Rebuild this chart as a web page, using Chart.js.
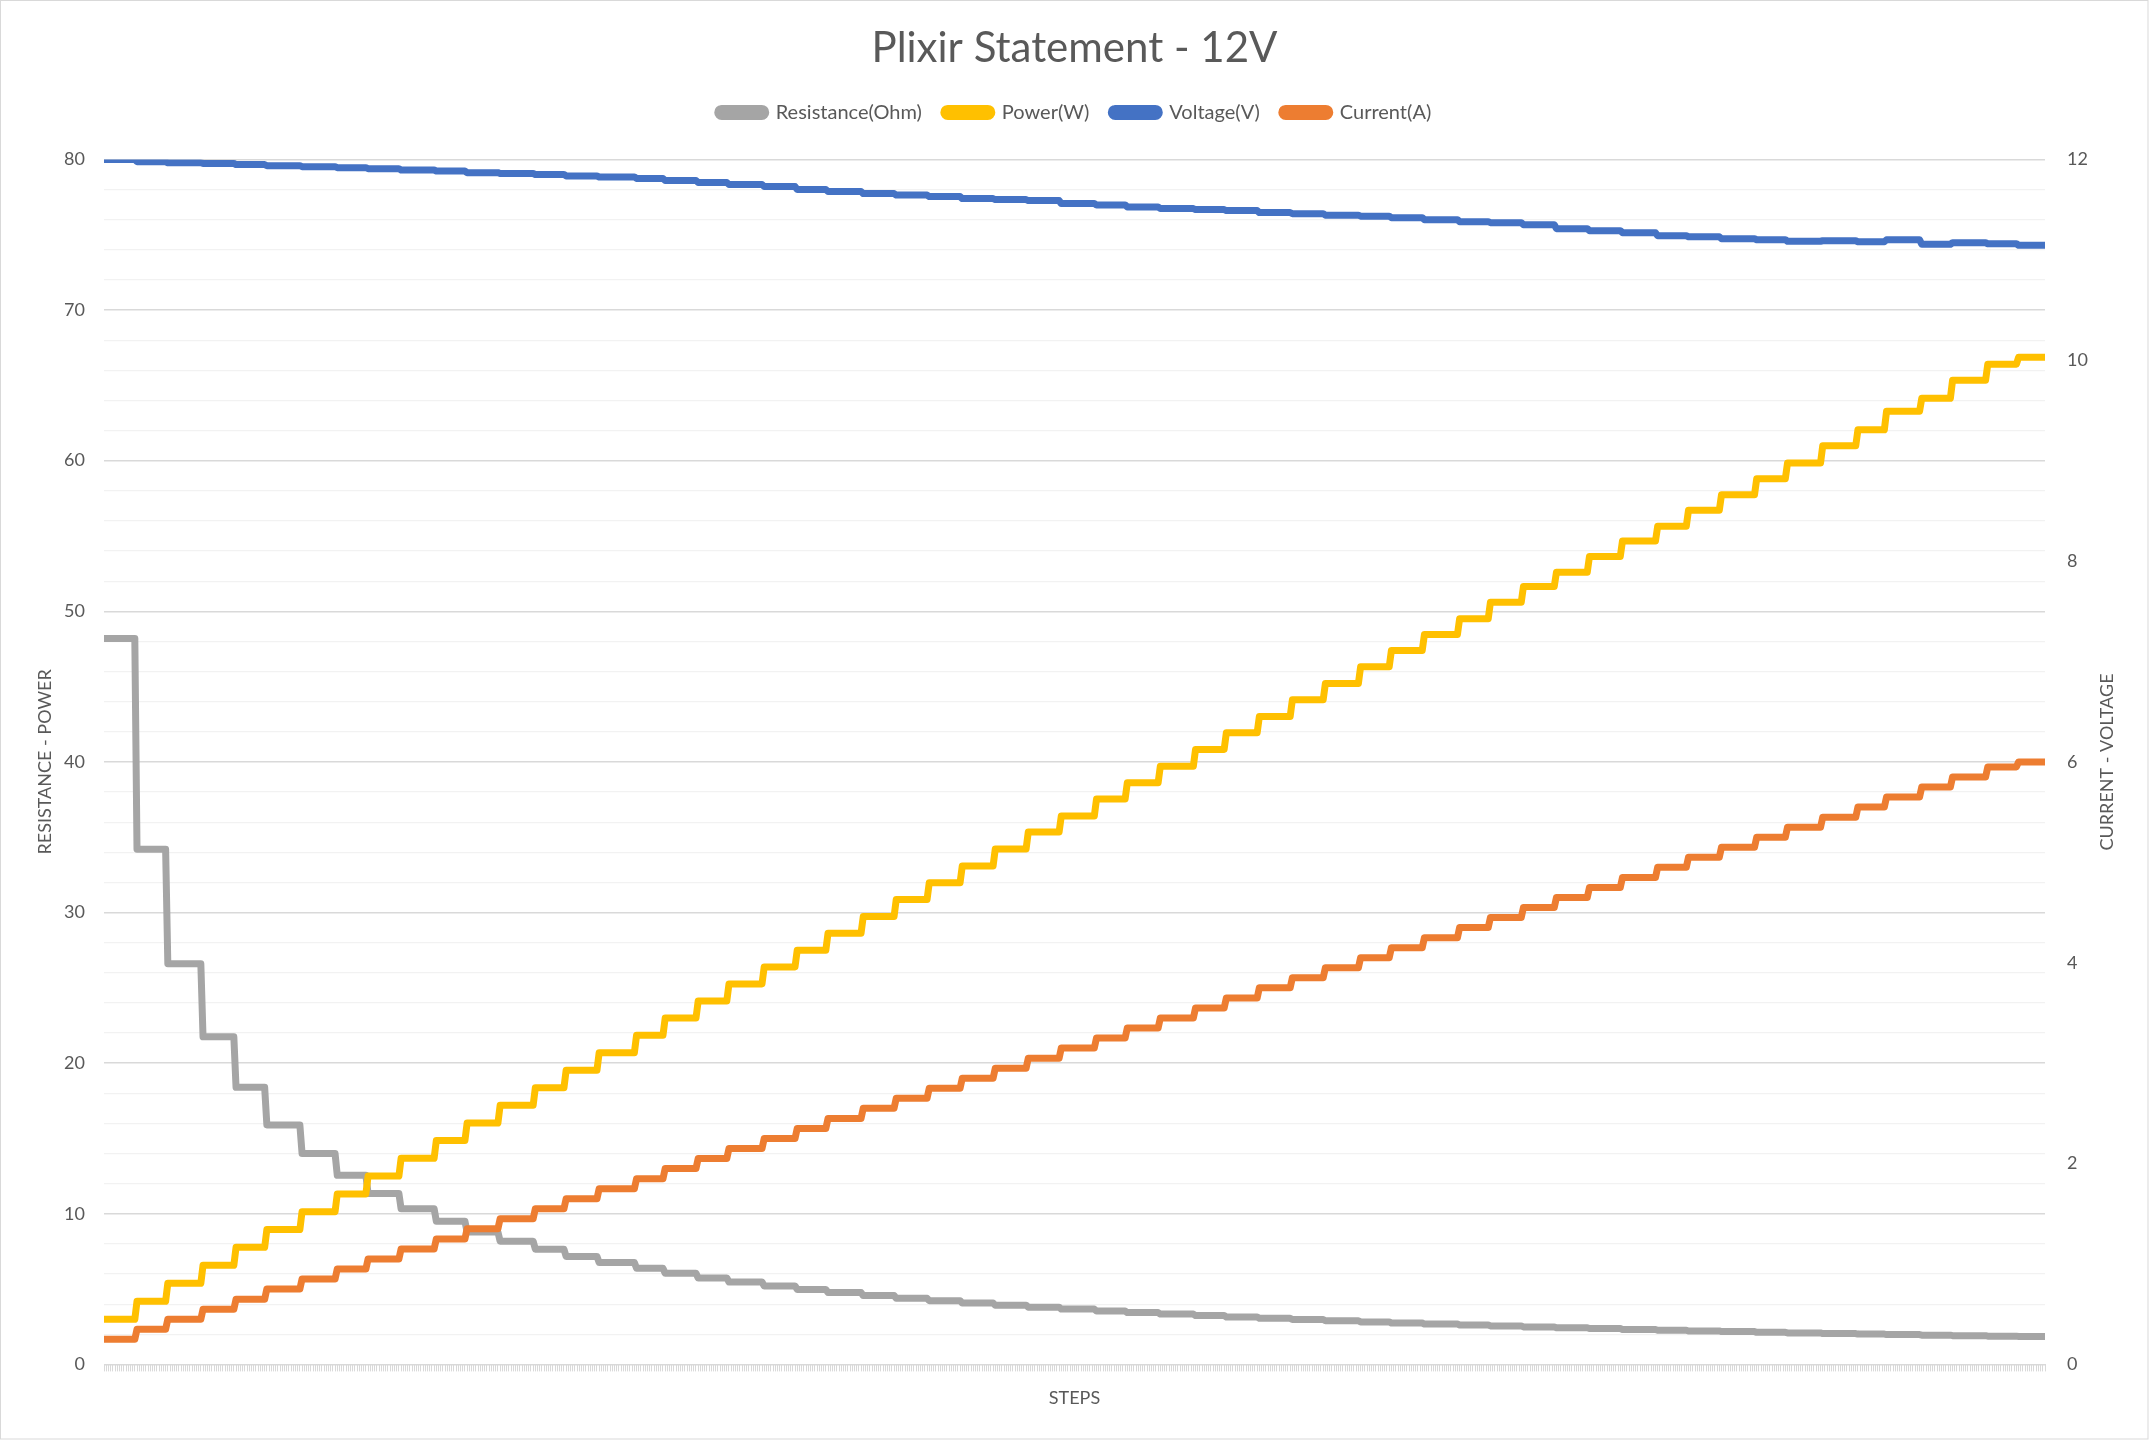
<!DOCTYPE html>
<html>
<head>
<meta charset="utf-8">
<script src="https://cdn.jsdelivr.net/npm/chart.js@4.4.1/dist/chart.umd.min.js"></script>
<style>
  html, body { margin: 0; padding: 0; background: #ffffff; }
  #wrap { position: relative; width: 2149px; height: 1440px; }
</style>
</head>
<body>
<div id="wrap"><canvas id="c"></canvas></div>
<script>
// ---- Data ----
const chartTitle = 'Plixir Statement - 12V';
const seriesNames = ['Resistance(Ohm)', 'Power(W)', 'Voltage(V)', 'Current(A)'];

// sample index at which each current level starts, and the last sample
const stepStart = [0,15,29,45,60,74,90,106,120,135,151,165,180,196,210,225,242,255,270,284,
  300,315,329,345,360,375,390,405,420,435,451,465,480,496,510,525,540,555,571,585,
  600,616,630,645,660,675,690,706,720,735,751,765,781,797,810,826,840,856,870];
const lastSample = 882;

const current = [0.25,0.35,0.45,0.55,0.65,0.75,0.85,0.95,1.05,1.15,
  1.25,1.35,1.45,1.55,1.65,1.75,1.85,1.95,2.05,2.15,
  2.25,2.35,2.45,2.55,2.65,2.75,2.85,2.95,3.05,3.15,
  3.25,3.35,3.45,3.55,3.65,3.75,3.85,3.95,4.05,4.15,
  4.25,4.35,4.45,4.55,4.65,4.75,4.85,4.95,5.05,5.15,
  5.25,5.35,5.45,5.55,5.65,5.75,5.85,5.95,6.00];

const voltage = [12.00,11.977,11.967,11.96,11.948,11.938,11.928,11.918,11.908,11.894,
  11.884,11.868,11.86,11.85,11.835,11.825,11.81,11.79,11.77,11.75,
  11.73,11.70,11.68,11.66,11.645,11.63,11.61,11.60,11.59,11.56,
  11.547,11.527,11.51,11.50,11.49,11.47,11.46,11.445,11.435,11.42,
  11.40,11.38,11.37,11.35,11.31,11.29,11.27,11.24,11.23,11.21,
  11.20,11.185,11.19,11.18,11.20,11.155,11.17,11.16,11.145];

const power = [3.00,4.19,5.39,6.58,7.77,8.95,10.14,11.32,12.50,13.68,
  14.86,16.02,17.20,18.37,19.53,20.69,21.85,22.99,24.13,25.26,
  26.39,27.50,28.62,29.73,30.86,31.98,33.09,34.22,35.35,36.41,
  37.53,38.62,39.71,40.83,41.94,43.01,44.12,45.21,46.31,47.39,
  48.45,49.50,50.60,51.64,52.59,53.63,54.66,55.64,56.71,57.73,
  58.80,59.84,60.99,62.05,63.28,64.14,65.34,66.40,66.87];

const resistance = [48.2,34.2,26.6,21.75,18.4,15.9,14.0,12.55,11.34,10.34,
  9.51,8.79,8.18,7.65,7.17,6.76,6.38,6.05,5.74,5.47,
  5.21,4.98,4.77,4.57,4.39,4.23,4.07,3.93,3.80,3.67,
  3.55,3.44,3.34,3.24,3.15,3.06,2.98,2.90,2.82,2.75,
  2.68,2.62,2.555,2.49,2.43,2.38,2.32,2.27,2.22,2.18,
  2.13,2.09,2.05,2.01,1.98,1.94,1.91,1.876,1.857];

const leftAxis = { min: 0, max: 80, step: 2, labelEvery: 10, title: 'RESISTANCE - POWER' };
const rightAxis = { min: 0, max: 12, step: 2, title: 'CURRENT - VOLTAGE' };
const xAxisTitle = 'STEPS';

// ---- Build points from the arrays: each level held from its start sample to the sample before the next level ----
function toPoints(values) {
  const pts = [];
  values.forEach((v, i) => {
    const end = i + 1 < stepStart.length ? stepStart[i + 1] - 1 : lastSample;
    pts.push({ x: stepStart[i], y: v });
    pts.push({ x: end, y: v });
  });
  return pts;
}

const TEXT = '#595959';
Chart.defaults.font.family = 'Lato, "Open Sans", sans-serif';
Chart.defaults.color = TEXT;

function lineDs(label, values, color, axis, order) {
  return {
    label, data: toPoints(values), yAxisID: axis, order,
    borderColor: color, backgroundColor: color, borderWidth: 7,
    tension: 0, pointRadius: 0, pointHoverRadius: 0,
    borderJoinStyle: 'round', borderCapStyle: 'round', fill: false
  };
}

const legendSpacer = {
  id: 'legendSpacer',
  afterInit(chart) {
    const lg = chart.legend;
    if (!lg) return;
    const orig = lg.fit;
    lg.fit = function () { orig.call(this); this.height += 27; };
  }
};

const extras = {
  id: 'extras',
  afterDraw(chart) {
    const ctx = chart.ctx;
    const area = chart.chartArea;
    ctx.save();
    // right axis title, reading bottom-to-top
    ctx.translate(2107, (area.top + area.bottom) / 2);
    ctx.rotate(-Math.PI / 2);
    ctx.font = '18px Lato, "Open Sans", sans-serif';
    ctx.fillStyle = TEXT;
    ctx.textAlign = 'center';
    ctx.textBaseline = 'middle';
    ctx.fillText(rightAxis.title, 0, 0);
    ctx.restore();
    // chart frame
    ctx.save();
    ctx.strokeStyle = '#d9d9d9';
    ctx.lineWidth = 1;
    ctx.strokeRect(0.5, 0.5, chart.width - 1.5, chart.height - 1.5);
    ctx.restore();
  }
};

new Chart(document.getElementById('c'), {
  type: 'line',
  data: {
    datasets: [
      lineDs(seriesNames[0], resistance, '#A5A5A5', 'yL', 4),
      lineDs(seriesNames[1], power, '#FFC000', 'yL', 3),
      lineDs(seriesNames[2], voltage, '#4472C4', 'yR', 2),
      lineDs(seriesNames[3], current, '#ED7D31', 'yR', 1)
    ]
  },
  plugins: [legendSpacer, extras],
  options: {
    responsive: true,
    maintainAspectRatio: false,
    animation: false,
    devicePixelRatio: 1,
    layout: { padding: { left: 0, right: 0, top: 0, bottom: 31 } },
    plugins: {
      tooltip: { enabled: false },
      title: {
        display: true, text: chartTitle, color: TEXT,
        font: { size: 42, weight: 'normal' },
        padding: { top: 23, bottom: 7 }
      },
      legend: {
        display: true, position: 'top',
        labels: {
          color: TEXT, font: { size: 20 },
          boxWidth: 48, boxHeight: 8, padding: 22,
          useBorderRadius: true, borderRadius: 4,
          sort: (a, b) => a.datasetIndex - b.datasetIndex
        }
      }
    },
    scales: {
      x: {
        type: 'linear', min: 0, max: lastSample,
        ticks: { display: false, stepSize: 1, autoSkip: false },
        grid: { drawOnChartArea: false, drawTicks: true, tickLength: 7, color: '#d9d9d9', lineWidth: 1 },
        border: { display: false },
        title: { display: true, text: xAxisTitle, color: TEXT, font: { size: 18 }, padding: { top: 16, bottom: 0 } }
      },
      yL: {
        type: 'linear', position: 'left',
        min: leftAxis.min, max: leftAxis.max,
        ticks: {
          stepSize: leftAxis.step, autoSkip: false, padding: 19, color: TEXT, font: { size: 18 },
          callback: v => (v % leftAxis.labelEvery === 0 ? String(v) : '')
        },
        grid: {
          drawTicks: false,
          color: c => (c.tick && c.tick.value % leftAxis.labelEvery === 0 ? '#d9d9d9' : '#f2f2f2'),
          lineWidth: c => (c.tick && c.tick.value % leftAxis.labelEvery === 0 ? 1.5 : 1.2)
        },
        border: { display: false },
        title: { display: true, text: leftAxis.title, color: TEXT, font: { size: 18 }, padding: { top: 34, bottom: 0 } },
        afterFit: s => { s.width = 104; }
      },
      yR: {
        type: 'linear', position: 'right',
        min: rightAxis.min, max: rightAxis.max,
        ticks: { stepSize: rightAxis.step, autoSkip: false, padding: 22, color: TEXT, font: { size: 18 } },
        grid: { display: false, drawTicks: false },
        border: { display: false },
        afterFit: s => { s.width = 104; }
      }
    }
  }
});
</script>
</body>
</html>
